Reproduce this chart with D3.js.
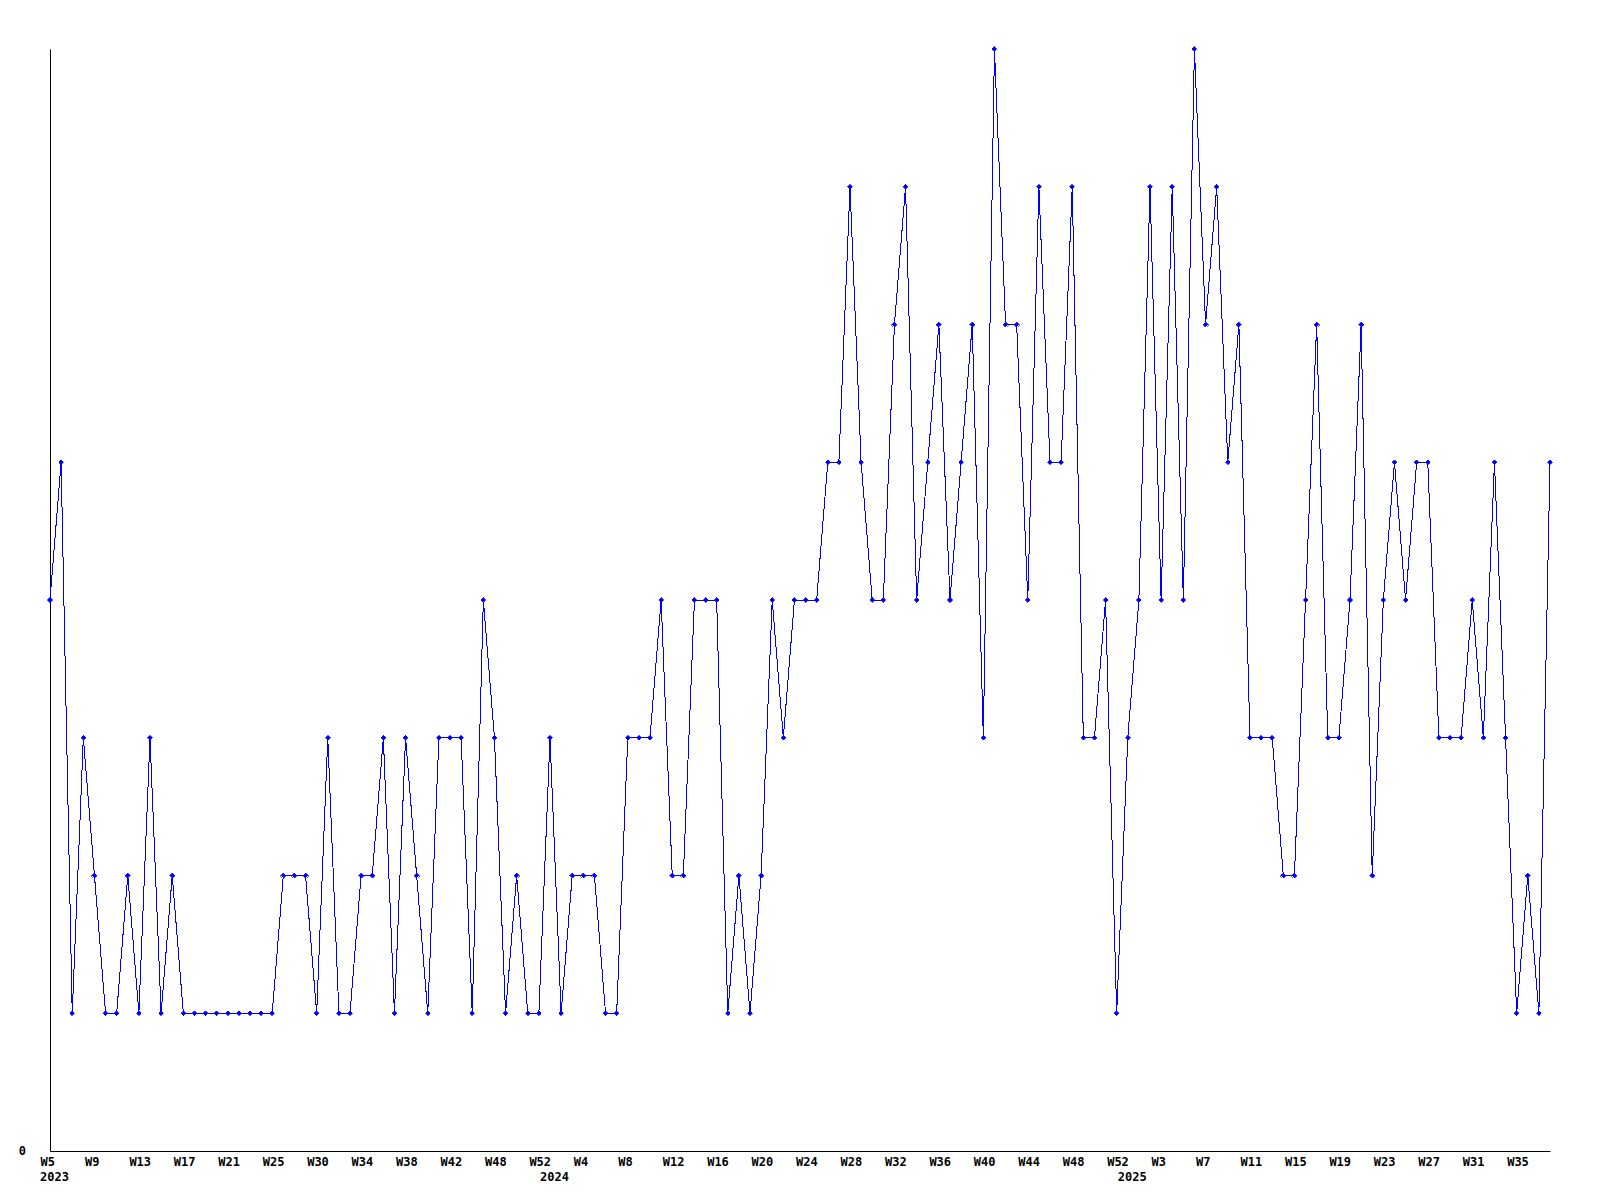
<!DOCTYPE html>
<html>
<head>
<meta charset="utf-8">
<script src="https://cdn.jsdelivr.net/npm/d3@7"></script>
<style>
  body { margin: 0; background: #fff; }
  svg { display: block; }
  .axis text { font-family: "DejaVu Sans Mono", monospace; font-weight: bold; font-size: 12px; fill: #000; }
  .axis path { stroke: #000; }
</style>
</head>
<body>
<div id="chart-area"></div>
<script>
// SVG size
let width = 1600,
	height = 1200;

// Plot area edges
let margin = {top: 49, right: 50, bottom: 49, left: 50};

// Weekly values, one per point (2023 W5 ... 2025 W37)
let values = [
	4, 5, 1, 3, 2, 1, 1, 2, 1, 3, 1, 2, 1, 1, 1, 1, 1, 1, 1, 1,
	1, 2, 2, 2, 1, 3, 1, 1, 2, 2, 3, 1, 3, 2, 1, 3, 3, 3, 1, 4,
	3, 1, 2, 1, 1, 3, 1, 2, 2, 2, 1, 1, 3, 3, 3, 4, 2, 2, 4, 4,
	4, 1, 2, 1, 2, 4, 3, 4, 4, 4, 5, 5, 7, 5, 4, 4, 6, 7, 4, 5,
	6, 4, 5, 6, 3, 8, 6, 6, 4, 7, 5, 5, 7, 3, 3, 4, 1, 3, 4, 7,
	4, 7, 4, 8, 6, 7, 5, 6, 3, 3, 3, 2, 2, 4, 6, 3, 3, 4, 6, 2,
	4, 5, 4, 5, 5, 3, 3, 3, 4, 3, 5, 3, 1, 2, 1, 5
];

// Week labels shown every 4th point
let weekLabels = [
	"W5", "W9", "W13", "W17", "W21", "W25", "W30", "W34", "W38", "W42", "W48", "W52",
	"W4", "W8", "W12", "W16", "W20", "W24", "W28", "W32", "W36", "W40", "W44", "W48", "W52",
	"W3", "W7", "W11", "W15", "W19", "W23", "W27", "W31", "W35"
];
let labelStep = 4;

// Year labels and the point where each year starts
let years = ["2023", "2024", "2025"];
let yearStart = [0, 45, 97];

let svg = d3.select("#chart-area")
	.append("svg")
	.attr("width", width)
	.attr("height", height);

let x = d3.scaleLinear()
	.domain([0, values.length - 1])
	.range([margin.left, width - margin.right]);

let y = d3.scaleLinear()
	.domain([0, 8])
	.range([1151, margin.top]);

// Axes
let xAxis = d3.axisBottom(x)
	.tickValues(weekLabels.map((w, i) => i * labelStep))
	.tickFormat((d, i) => weekLabels[i])
	.tickSize(0)
	.tickPadding(6.5);

let xGroup = svg.append("g")
	.attr("class", "axis x-axis")
	.attr("transform", "translate(0," + y(0) + ")")
	.call(xAxis);

xGroup.selectAll(".tick text")
	.attr("text-anchor", "start")
	.attr("dx", -10);

xGroup.selectAll(".year")
	.data(years)
	.enter()
	.append("text")
	.attr("class", "year")
	.attr("x", (d, i) => x(yearStart[i]) - 10)
	.attr("y", 30)
	.attr("text-anchor", "start")
	.text(d => d);

let yAxis = d3.axisLeft(y)
	.tickValues([0])
	.tickSize(0)
	.tickPadding(24);

svg.append("g")
	.attr("class", "axis y-axis")
	.attr("transform", "translate(" + margin.left + ",0)")
	.call(yAxis);

// Line
let line = d3.line()
	.x((d, i) => x(i))
	.y(d => y(d));

svg.append("path")
	.datum(values)
	.attr("fill", "none")
	.attr("stroke", "#0000ff")
	.attr("stroke-width", 1)
	.attr("shape-rendering", "crispEdges")
	.attr("d", line);

// Point markers
svg.selectAll(".marker")
	.data(values)
	.enter()
	.append("path")
	.attr("class", "marker")
	.attr("transform", (d, i) => "translate(" + x(i) + "," + y(d) + ")")
	.attr("d", d3.symbol().type(d3.symbolDiamond2).size(16))
	.attr("fill", "#0000ff")
	.attr("stroke", "#0000ff")
	.attr("stroke-width", 0.6)
	.attr("shape-rendering", "crispEdges");
</script>
</body>
</html>
